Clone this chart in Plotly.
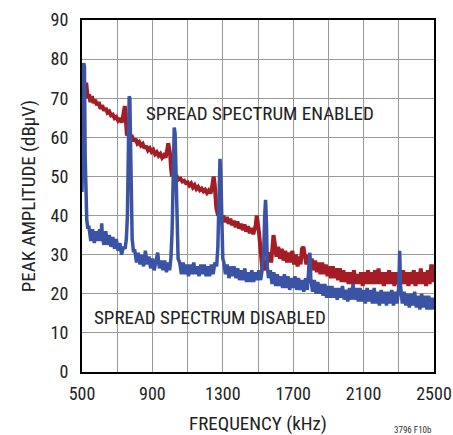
import plotly.graph_objects as go

# spread spectrum disabled (blue)
disabled_khz = [
    500, 505, 510, 514, 518, 522, 527, 532,
    540, 550, 560, 570, 580, 590, 600, 608, 612, 616, 625, 635, 645, 655, 665, 675, 685, 695,
    705, 715, 725, 735, 745, 752, 758, 763, 768, 772, 776, 780, 785, 792,
    800, 810, 820, 830, 840, 850, 860, 870, 880, 890, 900, 910, 920, 930, 940, 950, 960, 970,
    980, 990, 998, 1005, 1012, 1018, 1024, 1029, 1034, 1040, 1046,
    1055, 1065, 1075, 1085, 1095, 1105, 1115, 1125, 1135, 1145, 1155, 1165, 1175, 1185, 1195,
    1205, 1215, 1225, 1235, 1245, 1255, 1265, 1272, 1278, 1284, 1289, 1294, 1300, 1306,
    1315, 1325, 1335, 1345, 1355, 1365, 1375, 1385, 1395, 1405, 1415, 1425, 1435, 1445, 1455,
    1465, 1475, 1485, 1495, 1505, 1515, 1525, 1532, 1538, 1543, 1548, 1553, 1560,
    1570, 1580, 1590, 1600, 1610, 1620, 1630, 1640, 1650, 1660, 1670, 1680, 1690, 1700, 1710,
    1720, 1730, 1740, 1750, 1760, 1770, 1780, 1790, 1795, 1800, 1810, 1820, 1830, 1840, 1850,
    1860, 1870, 1880, 1890, 1900, 1910, 1920, 1930, 1940, 1950, 1960, 1970, 1980, 1990, 2000,
    2010, 2020, 2030, 2040, 2050, 2060, 2070, 2080, 2090, 2100, 2110, 2120, 2130, 2140, 2150,
    2160, 2170, 2180, 2190, 2200, 2210, 2220, 2230, 2240, 2250, 2260, 2270, 2280, 2290, 2300,
    2305, 2310, 2320, 2330, 2340, 2350, 2360, 2370, 2380, 2390, 2400, 2410, 2420, 2430, 2440,
    2450, 2460, 2470, 2480, 2490, 2500,
]
disabled_dbuv = [
    46, 60, 79, 78, 55, 45, 39, 37,
    37, 33.5, 36.5, 33, 36, 33.5, 36.5, 33.5, 38, 34.5, 32.5, 36, 32.5, 35, 32, 34.5, 31.5, 34,
    31, 33, 30, 32, 31.5, 34, 40, 55, 70.5, 70, 58, 42, 34, 31,
    31, 28, 30.5, 27.5, 30, 27, 31, 27.5, 29.5, 26.5, 29, 26, 28.5, 30.5, 26.5, 28.5, 26, 28.5,
    25.5, 28, 26, 29, 36, 50, 62.5, 61, 48, 35, 29,
    28, 25, 28, 25, 27.5, 24.5, 27.5, 25, 28, 25, 27, 24.5, 27.5, 25, 27.5,
    24.5, 27, 24.5, 27.5, 25, 28, 27, 32, 45, 54.5, 50, 37, 29, 28,
    25, 27.5, 24, 27, 24.5, 27, 24, 26.5, 23.5, 26, 23.5, 26.5, 23, 25.5, 23,
    26, 23, 25.5, 23.5, 26, 23.5, 26.5, 30, 40, 44, 38, 27, 24,
    26, 22.5, 25.5, 22, 25, 22, 24.5, 21.5, 25, 21.5, 24.5, 21, 24, 21.5, 24.5,
    21, 24, 21, 23.5, 20.5, 24, 21, 27, 30.5, 24, 20.5, 23.5, 20, 23, 20,
    22.5, 19.5, 22.5, 19, 22, 19, 22, 19, 21.5, 18.5, 21.5, 19, 22, 18.5, 21,
    18, 21.5, 18.5, 22.5, 18.5, 21.5, 18, 21.5, 18, 21, 17.5, 21.5, 18, 21, 17.5,
    21.5, 17.5, 20.5, 17, 21, 17.5, 20.5, 17, 20.5, 17.5, 21, 17, 20.5, 17.5, 22,
    31, 22, 17.5, 20.5, 17, 20, 16.5, 20, 17, 20.5, 16.5, 19.5, 16, 20, 16.5,
    19.5, 16, 19.5, 16, 19, 16,
]

# spread spectrum enabled (red)
enabled_khz = [
    500, 503, 507, 512, 518, 524, 528, 533, 540, 548, 556, 565, 575, 585, 595, 605, 615, 625,
    635, 645, 655, 665, 675, 685, 695, 705, 715, 725, 732, 738, 743, 747, 751, 755,
    765, 775, 785, 795, 805, 815, 825, 835, 845, 855, 865, 875, 885, 895, 905, 915, 925, 935,
    945, 955, 965, 975, 983, 990, 996, 1001, 1006, 1010,
    1020, 1030, 1040, 1050, 1060, 1070, 1080, 1090, 1100, 1110, 1120, 1130, 1140, 1150, 1160,
    1170, 1180, 1190, 1200, 1210, 1220, 1230, 1236, 1242, 1248, 1254, 1259, 1263,
    1273, 1283, 1293, 1303, 1313, 1323, 1333, 1343, 1353, 1363, 1373, 1383, 1393, 1403, 1413,
    1423, 1433, 1443, 1453, 1463, 1473, 1481, 1487, 1493, 1499, 1505, 1511, 1517, 1521,
    1525, 1535, 1545, 1555, 1565, 1575, 1582, 1588, 1595, 1605, 1615, 1625, 1635, 1645, 1655,
    1665, 1675, 1685, 1695, 1705, 1715, 1725, 1735, 1742, 1750, 1758, 1765, 1775, 1785, 1795,
    1805, 1815, 1825, 1835, 1845, 1855, 1865, 1875, 1885, 1895, 1905, 1915, 1925, 1935, 1945,
    1955, 1965, 1975, 1985, 1995, 2005, 2015, 2025, 2035, 2045, 2055, 2065, 2075, 2085, 2095,
    2105, 2115, 2125, 2135, 2145, 2155, 2165, 2175, 2185, 2195, 2205, 2215, 2225, 2235, 2245,
    2255, 2265, 2275, 2285, 2295, 2305, 2315, 2325, 2335, 2345, 2355, 2365, 2375, 2385, 2395,
    2405, 2415, 2425, 2435, 2445, 2455, 2465, 2475, 2485, 2492, 2500,
]
enabled_dbuv = [
    60, 76, 72, 70, 72, 74, 72, 70, 71, 69, 70.5, 68.8, 69.6, 68.2, 69, 67.3, 68.2, 66.8,
    67.5, 66.3, 66.6, 65.6, 65.8, 64.9, 65.2, 64.3, 64.9, 63.8, 65, 67, 68, 66, 63, 60.5,
    61, 59.8, 60.1, 59, 59.6, 58.4, 58.8, 57.9, 58.3, 57.2, 57.8, 56.7, 57.2, 56.3, 56.8, 55.7,
    56.2, 55.3, 55.8, 54.8, 55.4, 54.8, 56.5, 58.5, 57, 55.5, 52, 50.5,
    50.6, 49.8, 49.9, 49.2, 49.4, 48.7, 48.9, 48.3, 48.5, 47.7, 48.2, 47.2, 47.8, 46.8, 47.3,
    46.5, 46.9, 46.2, 46.6, 45.8, 46.4, 45.7, 46.5, 48, 50, 48, 45, 42, 40,
    40.6, 38.9, 40, 38.3, 39.6, 37.9, 39.2, 37.5, 38.7, 37, 38.5, 36.7, 37.9, 36.3, 37.7,
    35.9, 37.3, 35.5, 36.8, 35.2, 36.5, 37.5, 40, 38.5, 36, 33, 29, 26.5, 26,
    28.5, 26, 29.5, 30.5, 28, 32.5, 35, 33, 29.5, 32, 29, 31.5, 28.5, 31, 28,
    30.5, 28, 31, 27.5, 30, 27, 29.5, 27.5, 31.5, 32, 30, 27.5, 30, 26.5, 29,
    26, 28.5, 25.5, 28, 25, 28, 25, 27.5, 24.5, 27, 24, 27, 24, 26.5, 23.5,
    26.5, 23, 26, 23, 25.5, 22.5, 25.5, 22.5, 26, 22.5, 25, 22.5, 25.5, 22, 25.5,
    22.5, 26, 22.5, 25.5, 22.5, 26, 22.5, 26.5, 22.5, 25.5, 22, 25.5, 22.5, 26, 22.5,
    25.5, 22, 25.5, 22.5, 25, 22.5, 26, 22.5, 25.5, 22, 25.5, 22.5, 26, 22, 25.5,
    22.5, 26.5, 22.5, 25.5, 22, 26, 22.5, 27.5, 23, 27.5, 25,
]

x_ticks = [500, 900, 1300, 1700, 2100, 2500]
y_ticks = [0, 10, 20, 30, 40, 50, 60, 70, 80, 90]

RED = '#a51d24'
BLUE = '#3a53a5'
FONT = 'Roboto Condensed, Liberation Sans Narrow, sans-serif'

fig = go.Figure()
fig.add_trace(go.Scatter(x=enabled_khz, y=enabled_dbuv, mode='lines',
                         line=dict(color=RED, width=4)))
fig.add_trace(go.Scatter(x=disabled_khz, y=disabled_dbuv, mode='lines',
                         line=dict(color=BLUE, width=3.5)))

fig.add_annotation(x=852, y=66.1, text='SPREAD SPECTRUM ENABLED', showarrow=False,
                   xanchor='left', yanchor='middle', font=dict(size=19, color='#222'))
fig.add_annotation(x=555, y=14.0, text='SPREAD SPECTRUM DISABLED', showarrow=False,
                   xanchor='left', yanchor='middle', font=dict(size=19, color='#222'))
fig.add_annotation(x=1, y=0, xref='paper', yref='paper', xanchor='right', yanchor='top',
                   yshift=-51, text='3796 F10b', showarrow=False,
                   font=dict(size=9, color='#333'))

fig.update_xaxes(range=[500, 2500], tickvals=x_ticks, ticks='', automargin=False,
                 ticklabeloverflow='allow',
                 showgrid=True, gridcolor='#9a9a9a', gridwidth=1.3,
                 minor=dict(dtick=200, tick0=500, showgrid=True, gridcolor='#9a9a9a', gridwidth=1.3),
                 showline=True, linecolor='black', linewidth=2, mirror=True,
                 zeroline=False, tickfont=dict(size=18), ticklabelstandoff=4,
                 title=dict(text='FREQUENCY (kHz)', font=dict(size=19), standoff=14))
fig.update_yaxes(range=[0, 90], tickvals=y_ticks, ticks='', automargin=False,
                 showgrid=True, gridcolor='#9a9a9a', gridwidth=1.3,
                 showline=True, linecolor='black', linewidth=2, mirror=True,
                 zeroline=False, tickfont=dict(size=18), ticklabelstandoff=8,
                 title=dict(text='PEAK AMPLITUDE (dBμV)', font=dict(size=19), standoff=10))

fig.update_layout(width=453, height=435, showlegend=False,
                  margin=dict(l=82, r=19, t=20, b=63),
                  paper_bgcolor='white', plot_bgcolor='white',
                  font=dict(family=FONT, color='#222'))

# drop the default body margin so the figure fills the window exactly
fig.write_html("out.html", config={'displayModeBar': False},
               post_script="document.body.style.margin='0';document.body.style.overflow='hidden';")
